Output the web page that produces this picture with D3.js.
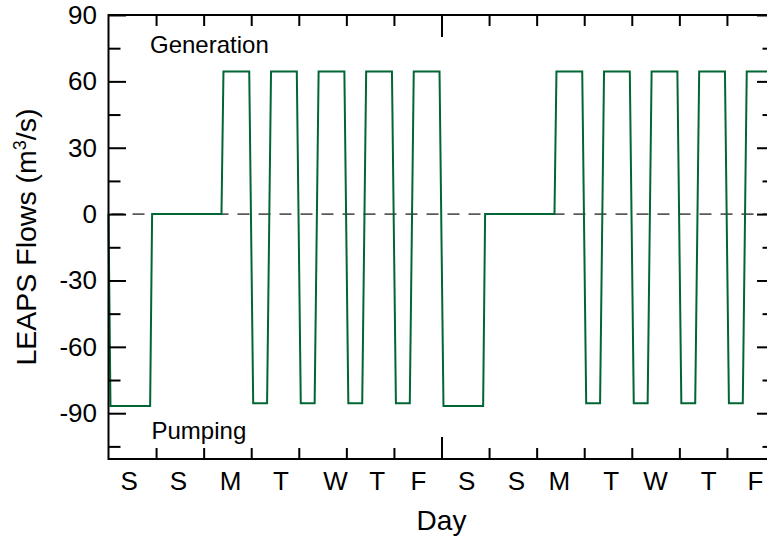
<!DOCTYPE html>
<html>
<head>
<meta charset="utf-8">
<script src="https://cdn.jsdelivr.net/npm/d3@7"></script>
<style>
  body { margin: 0; background: #fff; }
  svg { display: block; }
  text { font-family: "Liberation Sans", Arial, Helvetica, sans-serif; fill: #000; }
</style>
</head>
<body>
<svg id="chart" width="767" height="539"></svg>
<script>
// Two weeks of hourly LEAPS operation, starting Saturday 00:00.
// Breakpoints of the flow schedule: hour since start, flow in m3/s
// (positive = generation, negative = pumping).
const hours = [
  0, 1, 21, 22, 57, 58,
  71, 73, 80, 82,
  95, 97, 104, 106,
  119, 121, 128, 130,
  143, 145, 152, 154,
  167, 169, 189, 190,
  225, 226,
  239, 241, 248, 250,
  263, 265, 272, 274,
  287, 289, 296, 298,
  311, 313, 320, 322,
  335, 336
];
const flows = [
  0, -86.7, -86.7, 0, 0, 64.5,
  64.5, -85.5, -85.5, 64.5,
  64.5, -85.5, -85.5, 64.5,
  64.5, -85.5, -85.5, 64.5,
  64.5, -85.5, -85.5, 64.5,
  64.5, -86.7, -86.7, 0,
  0, 64.5,
  64.5, -85.5, -85.5, 64.5,
  64.5, -85.5, -85.5, 64.5,
  64.5, -85.5, -85.5, 64.5,
  64.5, -85.5, -85.5, 64.5,
  64.5, 64.5
];

const dayLabels = ["S", "S", "M", "T", "W", "T", "F", "S", "S", "M", "T", "W", "T", "F"];
const dayLabelHours = [10.2, 35.0, 61.3, 86.7, 114.3, 135.3, 156.1, 180.5, 205.6, 227.2, 253.3, 275.7, 302.6, 326.1];
const dayBoundaries = [24, 48, 72, 96, 120, 144, 192, 216, 240, 264, 288, 312];
const weekBoundaries = [168];
const yMajorTicks = [90, 60, 30, 0, -30, -60, -90];
const yMinorTicks = [75, 45, 15, -15, -45, -75, -105];

const svg = d3.select("#chart");
const plotLeft = 108.5, plotRight = 774.5, plotTop = 15, plotBottom = 459;

const x = d3.scaleLinear().domain([0, 336]).range([plotLeft, plotRight]);
const y = d3.scaleLinear().domain([-110.7, 90]).range([plotBottom, plotTop]);

// zero reference line
svg.append("line")
  .attr("x1", plotLeft).attr("x2", plotRight)
  .attr("y1", y(0)).attr("y2", y(0))
  .attr("stroke", "#5a5a5a")
  .attr("stroke-width", 1.6)
  .attr("stroke-dasharray", "12,9")
  .attr("stroke-dashoffset", -3);

// flow trace
const line = d3.line()
  .x((d, i) => x(hours[i]))
  .y(d => y(d));

svg.append("path")
  .datum(flows)
  .attr("fill", "none")
  .attr("stroke", "#006633")
  .attr("stroke-width", 2)
  .attr("stroke-linejoin", "miter")
  .attr("d", line);

// axes helper
function styleAxis(g) {
  g.select(".domain").remove();
  g.selectAll(".tick line").attr("stroke", "#000").attr("stroke-width", 2);
  g.selectAll(".tick text").style("font-size", "26px").attr("fill", "#000");
}

// left axis: labelled majors (plain hyphen for negatives), then minors
svg.append("g").attr("transform", `translate(${plotLeft},0)`)
  .call(d3.axisLeft(y).tickValues(yMajorTicks).tickSize(-17.5).tickPadding(11.5)
    .tickFormat(d => String(d)))
  .call(styleAxis);
svg.append("g").attr("transform", `translate(${plotLeft},0)`)
  .call(d3.axisLeft(y).tickValues(yMinorTicks).tickSize(-12).tickFormat(""))
  .call(styleAxis);

// right axis (mirrored ticks)
svg.append("g").attr("transform", `translate(${plotRight},0)`)
  .call(d3.axisRight(y).tickValues(yMajorTicks).tickSize(-17.5).tickFormat(""))
  .call(styleAxis);
svg.append("g").attr("transform", `translate(${plotRight},0)`)
  .call(d3.axisRight(y).tickValues(yMinorTicks).tickSize(-12).tickFormat(""))
  .call(styleAxis);

// bottom axis: day and week boundaries, day-letter labels
svg.append("g").attr("transform", `translate(0,${plotBottom})`)
  .call(d3.axisBottom(x).tickValues(dayBoundaries).tickSize(-11).tickFormat(""))
  .call(styleAxis);
svg.append("g").attr("transform", `translate(0,${plotBottom})`)
  .call(d3.axisBottom(x).tickValues(weekBoundaries).tickSize(-22).tickFormat(""))
  .call(styleAxis);
svg.append("g").attr("transform", `translate(0,${plotBottom})`)
  .call(d3.axisBottom(x).tickValues(dayLabelHours).tickSize(0).tickPadding(12.5)
    .tickFormat((d, i) => dayLabels[i]))
  .call(styleAxis);

// top axis (mirrored ticks)
svg.append("g").attr("transform", `translate(0,${plotTop})`)
  .call(d3.axisTop(x).tickValues(dayBoundaries).tickSize(-11).tickFormat(""))
  .call(styleAxis);
svg.append("g").attr("transform", `translate(0,${plotTop})`)
  .call(d3.axisTop(x).tickValues(weekBoundaries).tickSize(-22).tickFormat(""))
  .call(styleAxis);

// plot frame
svg.append("rect")
  .attr("x", plotLeft).attr("y", plotTop)
  .attr("width", plotRight - plotLeft).attr("height", plotBottom - plotTop)
  .attr("fill", "none").attr("stroke", "#000").attr("stroke-width", 2);

// annotations
svg.append("text").attr("x", 150).attr("y", 52.5)
  .style("font-size", "24px").text("Generation");
svg.append("text").attr("x", 151.5).attr("y", 439)
  .style("font-size", "24px").text("Pumping");

// axis titles
svg.append("text")
  .attr("x", (plotLeft + plotRight) / 2).attr("y", 530)
  .attr("text-anchor", "middle")
  .style("font-size", "28px").text("Day");

const yTitle = svg.append("text")
  .attr("transform", `translate(36,${(plotTop + plotBottom) / 2}) rotate(-90)`)
  .attr("text-anchor", "middle")
  .style("font-size", "28.5px");
yTitle.append("tspan").text("LEAPS Flows (m");
yTitle.append("tspan").attr("dy", -10).style("font-size", "18px").text("3");
yTitle.append("tspan").attr("dy", 10).text("/s)");
</script>
</body>
</html>
